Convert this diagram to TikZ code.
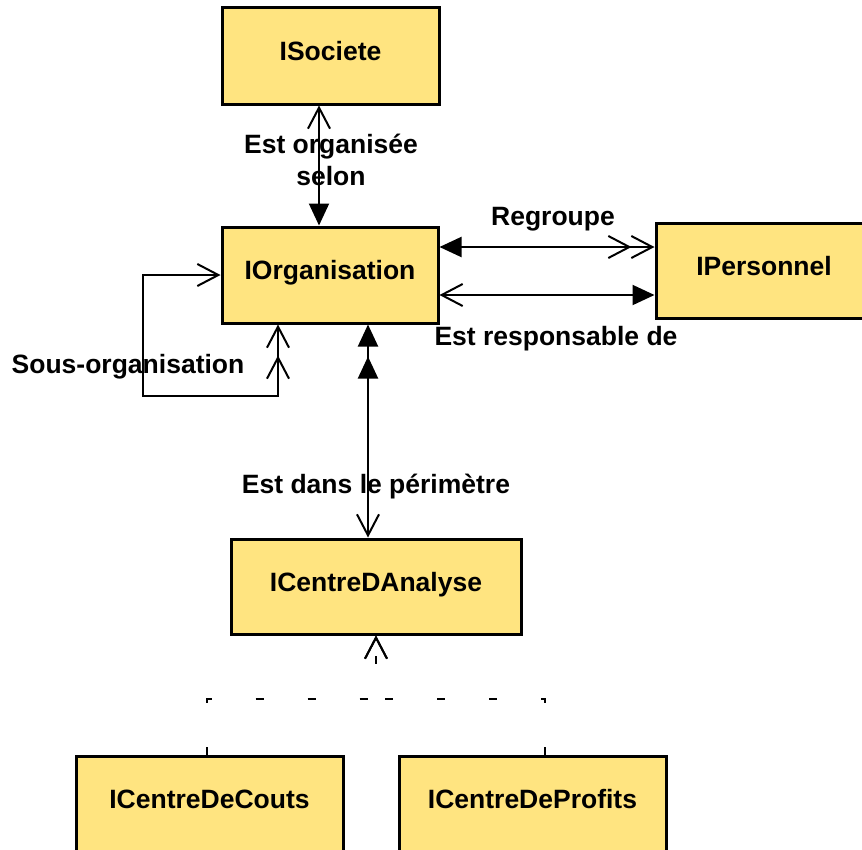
\documentclass[tikz,border=0pt]{standalone}
\usepackage{fontspec}
\setmainfont{Liberation Sans}
\usetikzlibrary{arrows.meta,decorations.markings}
\definecolor{boxfill}{RGB}{255,228,128}
\tikzset{
  cls/.style={draw=black, line width=3pt, fill=boxfill, inner sep=0pt,
    text height=19pt, text depth=10pt,
    font=\fontsize{26.5}{32}\selectfont\bfseries},
  lbl/.style={inner sep=0pt, anchor=base, align=center,
    font=\fontsize{26.5}{32}\selectfont\bfseries},
  conn/.style={draw=black, line width=2pt},
  opentip/.tip={Straight Barb[length=21pt, width=22pt]},
  fulltip/.tip={Triangle[length=22pt, width=20pt]},
  inh/.style={conn, dash pattern=on 8pt off 44pt}
}
\begin{document}
\begin{tikzpicture}[x=1pt, y=-1pt]
\useasboundingbox (0,0) rectangle (862,849);
\clip (0,0) rectangle (862,849);

% classes
\node[cls, minimum width=217pt, minimum height=97pt] (soc) at (330.5,55.5) {ISociete};
\node[cls, minimum width=216pt, minimum height=96pt] (org) at (330,275) {IOrganisation};
\node[cls, minimum width=216pt, minimum height=95pt] (pers) at (764,270.5) {IPersonnel};
\node[cls, minimum width=290pt, minimum height=95pt] (ana) at (376,586.5) {ICentreDAnalyse};
\node[cls, minimum width=267pt, minimum height=96pt] (couts) at (209.5,804) {ICentreDeCouts};
\node[cls, minimum width=267pt, minimum height=96pt] (prof) at (532.5,804) {ICentreDeProfits};

% Est organisee selon
\draw[conn, {opentip}-{fulltip}] ([xshift=-11.5pt]soc.south) -- ([xshift=-11pt]org.north);
\node[lbl] (lorg) at (331,185) {Est organisée\\selon};

% Regroupe
\draw[conn, {fulltip}-{opentip},
  postaction={decorate, decoration={markings,
    mark=at position -23pt with {\arrow{opentip}}}}]
  ([yshift=28pt]org.east) -- ([yshift=23.5pt]pers.west);
\node[lbl] (lreg) at (553,225) {Regroupe};

% Est responsable de
\draw[conn, {opentip}-{fulltip}] ([yshift=-20pt]org.east) -- ([yshift=-24.5pt]pers.west);
\node[lbl] (lresp) at (556,345) {Est responsable de};

% Sous-organisation
\coordinate (so1) at (278,396);
\coordinate (so2) at (143,396);
\coordinate (so3) at (143,275);
\draw[conn, {opentip}-{opentip},
  postaction={decorate, decoration={markings,
    mark=at position 31pt with {\arrowreversed{opentip}}}}]
  ([xshift=-52pt]org.south) -- (so1) -- (so2) -- (so3) -- (org.west);
\node[lbl] (lsous) at (128,373) {Sous-organisation};

% Est dans le perimetre
\draw[conn, {fulltip}-{opentip},
  postaction={decorate, decoration={markings,
    mark=at position 32pt with {\arrowreversed{fulltip}}}}]
  ([xshift=38pt]org.south) -- ([xshift=-8pt]ana.north);
\node[lbl] (lper) at (376,493) {Est dans le périmètre};

% inheritance
\coordinate (inhj) at (376,699);
\draw[inh, -{opentip}] ([xshift=-2.5pt]couts.north) |- (inhj) -- (ana.south);
\draw[inh, -{opentip}] ([xshift=12.5pt]prof.north) |- (inhj) -- (ana.south);
\end{tikzpicture}
\end{document}
